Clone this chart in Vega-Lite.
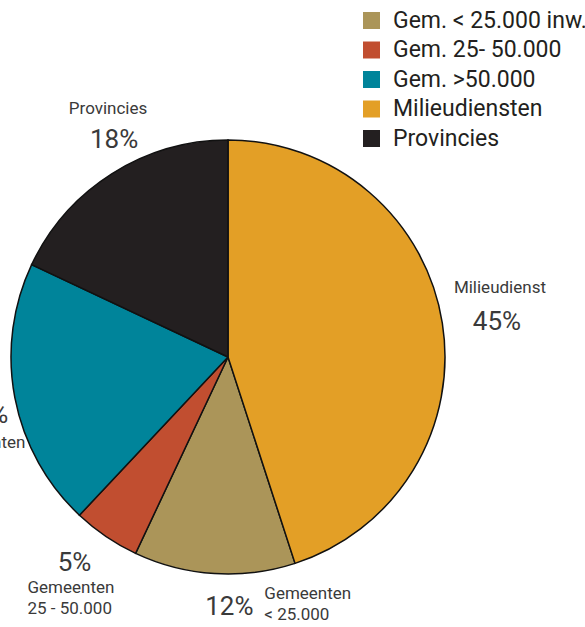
{
  "$schema": "https://vega.github.io/schema/vega-lite/v6.json",
  "autosize": {"type": "none"},
  "width": 456,
  "height": 540,
  "padding": {"left": 0, "top": 87, "right": 129, "bottom": 0},
  "background": "white",
  "config": {"view": {"stroke": null}, "font": "Roboto"},
  "data": {
    "values": [
      {"cat": "Gem. < 25.000 inw.", "pct": 12, "seq": 2, "pctText": "12%", "name": "Gemeenten\n< 25.000"},
      {"cat": "Gem. 25- 50.000", "pct": 5, "seq": 3, "pctText": "5%", "name": "Gemeenten\n25 - 50.000"},
      {"cat": "Gem. >50.000", "pct": 20, "seq": 4, "pctText": "20%", "name": "Gemeenten"},
      {"cat": "Milieudiensten", "pct": 45, "seq": 1, "pctText": "45%", "name": "Milieudienst"},
      {"cat": "Provincies", "pct": 18, "seq": 5, "pctText": "18%", "name": "Provincies"}
    ]
  },
  "encoding": {
    "theta": {"field": "pct", "type": "quantitative", "stack": true},
    "order": {"field": "seq", "type": "quantitative"}
  },
  "layer": [
    {
      "mark": {"type": "arc", "outerRadius": 217, "stroke": "#111111", "strokeWidth": 1.5},
      "encoding": {
        "color": {
          "field": "cat", "type": "nominal",
          "scale": {
            "domain": ["Gem. < 25.000 inw.", "Gem. 25- 50.000", "Gem. >50.000", "Milieudiensten", "Provincies"],
            "range": ["#ab9559", "#c14e30", "#00849a", "#e39f26", "#231f20"]
          },
          "legend": {
            "title": null, "orient": "none", "legendX": 360, "legendY": -78,
            "padding": 0, "symbolType": "square", "symbolSize": 289, "symbolStrokeWidth": 0,
            "symbolOpacity": 1,
            "labelFontSize": 23, "labelFont": "Roboto", "labelColor": "#231f20",
            "labelOffset": 10, "labelLimit": 400, "rowPadding": 5.5
          }
        }
      }
    },
    {
      "mark": {"type": "text", "radius": 250, "fontSize": 26, "color": "#3a3a3a", "align": "center", "baseline": "middle", "dx": 22, "dy": 4},
      "encoding": {"text": {"condition": {"test": "datum.cat === 'Milieudiensten'", "field": "pctText"}, "value": ""}}
    },
    {
      "mark": {"type": "text", "radius": 250, "fontSize": 26, "color": "#3a3a3a", "align": "center", "baseline": "middle", "dx": 17, "dy": 0},
      "encoding": {"text": {"condition": {"test": "datum.cat === 'Gem. < 25.000 inw.'", "field": "pctText"}, "value": ""}}
    },
    {
      "mark": {"type": "text", "radius": 250, "fontSize": 26, "color": "#3a3a3a", "align": "center", "baseline": "middle", "dx": -13, "dy": -1},
      "encoding": {"text": {"condition": {"test": "datum.cat === 'Gem. 25- 50.000'", "field": "pctText"}, "value": ""}}
    },
    {
      "mark": {"type": "text", "radius": 250, "fontSize": 26, "color": "#3a3a3a", "align": "right", "baseline": "middle", "dx": 26, "dy": 11},
      "encoding": {"text": {"condition": {"test": "datum.cat === 'Gem. >50.000'", "field": "pctText"}, "value": ""}}
    },
    {
      "mark": {"type": "text", "radius": 250, "fontSize": 26, "color": "#3a3a3a", "align": "center", "baseline": "middle", "dx": 20, "dy": -6},
      "encoding": {"text": {"condition": {"test": "datum.cat === 'Provincies'", "field": "pctText"}, "value": ""}}
    },
    {
      "mark": {"type": "text", "radius": 250, "fontSize": 17, "letterSpacing": 0.4, "color": "#3a3a3a", "align": "center", "baseline": "middle", "dx": 25, "dy": -30},
      "encoding": {"text": {"condition": {"test": "datum.cat === 'Milieudiensten'", "field": "name"}, "value": ""}}
    },
    {
      "mark": {"type": "text", "radius": 250, "fontSize": 17, "letterSpacing": 0.4, "color": "#3a3a3a", "align": "left", "baseline": "top", "lineBreak": "\n", "lineHeight": 21, "dx": 52, "dy": -21},
      "encoding": {"text": {"condition": {"test": "datum.cat === 'Gem. < 25.000 inw.'", "field": "name"}, "value": ""}}
    },
    {
      "mark": {"type": "text", "radius": 250, "fontSize": 17, "letterSpacing": 0.4, "color": "#3a3a3a", "align": "left", "baseline": "top", "lineBreak": "\n", "lineHeight": 21, "dx": -60, "dy": 16},
      "encoding": {"text": {"condition": {"test": "datum.cat === 'Gem. 25- 50.000'", "field": "name"}, "value": ""}}
    },
    {
      "mark": {"type": "text", "radius": 250, "fontSize": 17, "letterSpacing": 0.4, "color": "#3a3a3a", "align": "right", "baseline": "middle", "dx": 43, "dy": 39},
      "encoding": {"text": {"condition": {"test": "datum.cat === 'Gem. >50.000'", "field": "name"}, "value": ""}}
    },
    {
      "mark": {"type": "text", "radius": 250, "fontSize": 17, "letterSpacing": 0.4, "color": "#3a3a3a", "align": "center", "baseline": "middle", "dx": 14, "dy": -37},
      "encoding": {"text": {"condition": {"test": "datum.cat === 'Provincies'", "field": "name"}, "value": ""}}
    }
  ]
}
